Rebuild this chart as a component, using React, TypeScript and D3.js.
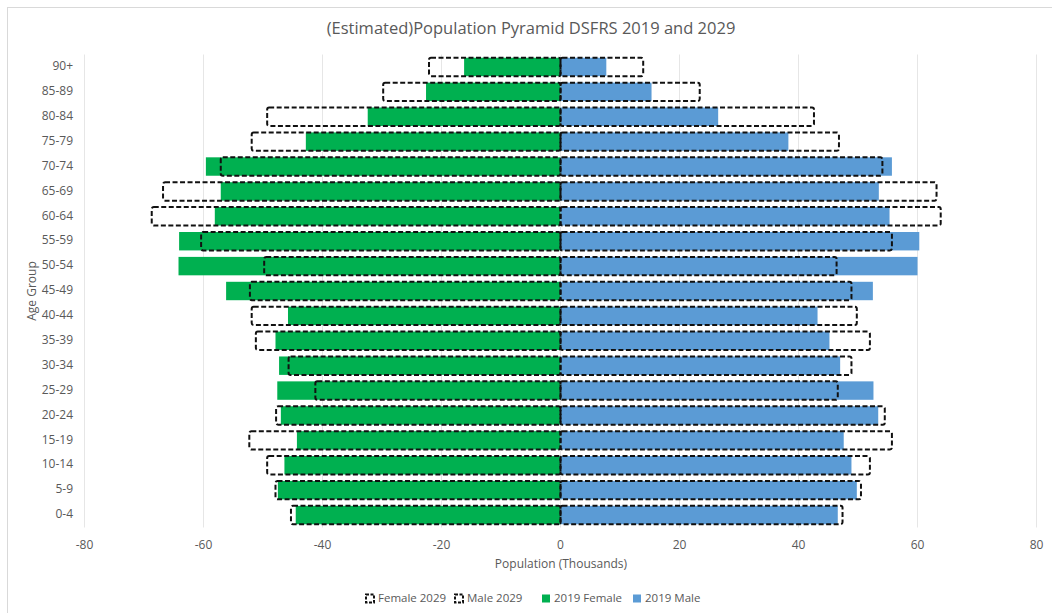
import React, { useEffect, useRef } from 'react';
import * as d3 from 'd3';

// age groups, top to bottom as shown
const ageGroups = ['90+', '85-89', '80-84', '75-79', '70-74', '65-69', '60-64', '55-59', '50-54', '45-49',
	'40-44', '35-39', '30-34', '25-29', '20-24', '15-19', '10-14', '5-9', '0-4'];

// thousands, females shown as negative
const female2019 = [-16.2, -22.6, -32.4, -42.8, -59.6, -57.1, -58.1, -64.1, -64.2, -56.2,
	-45.8, -47.9, -47.3, -47.6, -47.0, -44.3, -46.4, -47.5, -44.5];
const male2019 = [7.7, 15.3, 26.5, 38.3, 55.7, 53.5, 55.3, 60.3, 60.0, 52.5,
	43.2, 45.2, 47.0, 52.6, 53.4, 47.6, 48.9, 49.8, 46.6];
const female2029 = [-22.1, -29.8, -49.3, -51.9, -57.1, -66.8, -68.7, -60.4, -49.8, -52.2,
	-51.9, -51.2, -45.7, -41.2, -47.8, -52.3, -49.3, -47.9, -45.3];
const male2029 = [13.9, 23.4, 42.6, 46.8, 54.1, 63.2, 63.9, 55.7, 46.4, 48.9,
	49.8, 52.0, 48.9, 46.6, 54.5, 55.7, 52.0, 50.5, 47.4];

const xTicks = [-80, -60, -40, -20, 0, 20, 40, 60, 80];

const WIDTH = 1052;
const HEIGHT = 613;
const FONT = '"Open Sans", "Liberation Sans", sans-serif';
const TEXT_COLOR = '#595959';

export default function App() {
	const ref = useRef<SVGSVGElement>(null);

	useEffect(() => {
		document.body.style.margin = '0';
		const svg = d3.select(ref.current);
		svg.selectAll('*').remove();

		// outer chart frame (only top/left edges show in the picture)
		svg.append('rect')
			.attr('x', 7.5).attr('y', 7.5)
			.attr('width', WIDTH + 20).attr('height', HEIGHT + 20)
			.attr('fill', 'white').attr('stroke', '#d9d9d9');

		const x = d3.scaleLinear().domain([-80, 80]).range([84.5, 1036.5]);
		const y = d3.scaleBand().domain(ageGroups).range([54.5, 527.5]).paddingInner(0.26).paddingOuter(0.13);

		// title
		svg.append('text')
			.text('(Estimated)Population Pyramid DSFRS 2019 and 2029')
			.attr('x', 531).attr('y', 30)
			.attr('text-anchor', 'middle').attr('dominant-baseline', 'middle')
			.attr('font-family', FONT).attr('font-size', 16.5)
			.attr('fill', TEXT_COLOR);

		// vertical gridlines
		svg.append('g').selectAll('line')
			.data(xTicks)
			.enter().append('line')
			.attr('x1', d => x(d)).attr('x2', d => x(d))
			.attr('y1', 54.5).attr('y2', 527.5)
			.attr('stroke', '#e6e6e6').attr('stroke-width', 1);

		// x tick labels
		svg.append('g').selectAll('text')
			.data(xTicks)
			.enter().append('text')
			.text(d => d)
			.attr('x', d => x(d)).attr('y', 546)
			.attr('text-anchor', 'middle').attr('dominant-baseline', 'middle')
			.attr('font-family', FONT).attr('font-size', 12)
			.attr('fill', TEXT_COLOR);

		svg.append('text')
			.text('Population (Thousands)')
			.attr('x', 561).attr('y', 565)
			.attr('text-anchor', 'middle').attr('dominant-baseline', 'middle')
			.attr('font-family', FONT).attr('font-size', 12)
			.attr('fill', TEXT_COLOR);

		// y tick labels
		svg.append('g').selectAll('text')
			.data(ageGroups)
			.enter().append('text')
			.text(d => d)
			.attr('x', 73).attr('y', d => (y(d) as number) + y.bandwidth() / 2)
			.attr('text-anchor', 'end').attr('dominant-baseline', 'middle')
			.attr('font-family', FONT).attr('font-size', 12)
			.attr('fill', TEXT_COLOR);

		svg.append('text')
			.text('Age Group')
			.attr('transform', `translate(33,291) rotate(-90)`)
			.attr('text-anchor', 'middle').attr('dominant-baseline', 'middle')
			.attr('font-family', FONT).attr('font-size', 12)
			.attr('fill', TEXT_COLOR);

		// filled 2019 bars
		const drawFilled = (vals: number[], color: string) => {
			svg.append('g').selectAll('rect')
				.data(vals)
				.enter().append('rect')
				.attr('x', d => x(Math.min(0, d)))
				.attr('width', d => Math.abs(x(d) - x(0)))
				.attr('y', (d, i) => y(ageGroups[i]) as number)
				.attr('height', y.bandwidth())
				.attr('fill', color);
		};
		drawFilled(female2019, '#00b050');
		drawFilled(male2019, '#5b9bd5');

		// dashed 2029 outlines on top
		const drawDashed = (vals: number[]) => {
			svg.append('g').selectAll('rect')
				.data(vals)
				.enter().append('rect')
				.attr('x', d => x(Math.min(0, d)))
				.attr('width', d => Math.abs(x(d) - x(0)))
				.attr('y', (d, i) => y(ageGroups[i]) as number)
				.attr('height', y.bandwidth())
				.attr('rx', 2)
				.attr('fill', 'none')
				.attr('stroke', '#111')
				.attr('stroke-width', 2)
				.attr('stroke-dasharray', '5,2.5');
		};
		drawDashed(female2029);
		drawDashed(male2029);

		// legend
		const legendItems = [
			{ label: 'Female 2029', x: 366, dashed: true, color: 'none' },
			{ label: 'Male 2029', x: 455, dashed: true, color: 'none' },
			{ label: '2019 Female', x: 542, dashed: false, color: '#00b050' },
			{ label: '2019 Male', x: 633, dashed: false, color: '#5b9bd5' }
		];
		const legend = svg.append('g');
		legendItems.forEach(item => {
			const box = legend.append('rect')
				.attr('x', item.x).attr('y', 594.5)
				.attr('width', 8).attr('height', 8);
			if (item.dashed) {
				box.attr('fill', 'white').attr('stroke', '#111').attr('stroke-width', 2)
					.attr('stroke-dasharray', '3,1.5');
			} else {
				box.attr('fill', item.color);
			}
			legend.append('text')
				.text(item.label)
				.attr('x', item.x + 12).attr('y', 599)
				.attr('dominant-baseline', 'middle')
				.attr('font-family', FONT).attr('font-size', 11.5)
				.attr('fill', TEXT_COLOR);
		});
	}, []);

	return <svg ref={ref} width={WIDTH} height={HEIGHT} style={{ display: 'block' }} />;
}
